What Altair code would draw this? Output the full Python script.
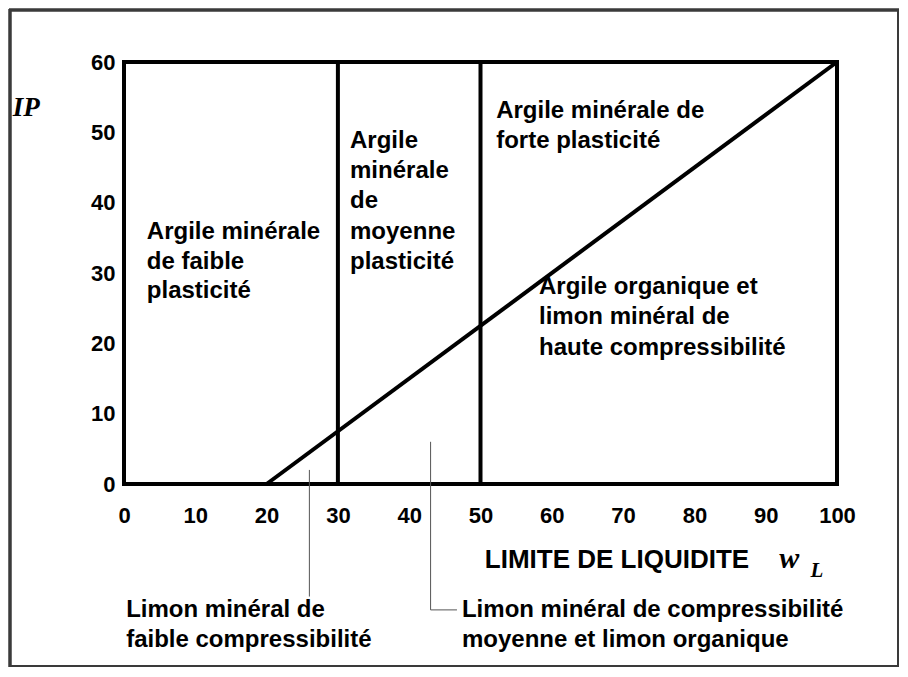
import altair as alt
import pandas as pd

# ---------------- data ----------------
x_ticks = [0, 10, 20, 30, 40, 50, 60, 70, 80, 90, 100]
y_ticks = [0, 10, 20, 30, 40, 50, 60]

# A-line (separation argile / limon)
aline_wl = [20, 100]
aline_ip = [0, 60]

# vertical limits of liquid limit
bound_wl = [30, 50]
bound_ip_low = [0, 0]
bound_ip_high = [60, 60]

# region labels inside the chart (one row per text line)
region_lines = [
    "Argile minérale", "de faible", "plasticité",
    "Argile", "minérale", "de", "moyenne", "plasticité",
    "Argile minérale de", "forte plasticité",
    "Argile organique et", "limon minéral de", "haute compressibilité",
]
region_wl = [3.2, 3.2, 3.2,
             31.7, 31.7, 31.7, 31.7, 31.7,
             52.2, 52.2,
             58.2, 58.2, 58.2]
region_ip = [35.8, 31.6, 27.4,
             48.7, 44.5, 40.2, 35.8, 31.6,
             53.0, 48.7,
             28.0, 23.7, 19.4]

# labels below the chart
below_lines = ["Limon minéral de", "faible compressibilité",
               "Limon minéral de compressibilité", "moyenne et limon organique"]
below_wl = [0.3, 0.3, 47.4, 47.4]
below_ip = [-17.9, -22.2, -17.9, -22.2]

# leader lines
leader1_wl = [26, 26]
leader1_ip = [2.0, -16.0]
leader2_wl = [43, 43, 46.7]
leader2_ip = [6.0, -17.9, -17.9]

# axis titles
x_title = ["LIMITE DE LIQUIDITE"]
x_title_wl = [50.6]
x_title_ip = [-10.8]
w_sym = ["w"]
w_wl = [91.9]
w_ip = [-10.6]
l_sym = ["L"]
l_wl = [96.3]
l_ip = [-12.3]
y_title = ["IP"]
y_title_wl = [-15.6]
y_title_ip = [53.5]

# ---------------- chart ----------------
W, H = 713, 422
SANS = "Liberation Sans"
SERIF = "Liberation Serif"

xscale = alt.Scale(domain=[0, 100], nice=False, zero=False)
yscale = alt.Scale(domain=[0, 60], nice=False, zero=False)
xaxis = alt.Axis(values=x_ticks, grid=False, domain=False, ticks=False, tickSize=0,
                 labelFont=SANS, labelFontWeight="bold", labelFontSize=22,
                 labelColor="black", labelPadding=21, labelFlush=False,
                 labelOverlap=False)
yaxis = alt.Axis(values=y_ticks, grid=False, domain=False, ticks=False, tickSize=0,
                 labelFont=SANS, labelFontWeight="bold", labelFontSize=22,
                 labelColor="black", labelPadding=9, labelFlush=False,
                 labelOverlap=False)


def X(field="wl"):
    return alt.X(f"{field}:Q", scale=xscale, axis=xaxis, title=None)


def Y(field="ip"):
    return alt.Y(f"{field}:Q", scale=yscale, axis=yaxis, title=None)


aline_df = pd.DataFrame({"wl": aline_wl, "ip": aline_ip})
bound_df = pd.DataFrame({"wl": bound_wl, "ip": bound_ip_low, "ip2": bound_ip_high})
region_df = pd.DataFrame({"wl": region_wl, "ip": region_ip, "t": region_lines})
below_df = pd.DataFrame({"wl": below_wl, "ip": below_ip, "t": below_lines})
lead1_df = pd.DataFrame({"wl": leader1_wl, "ip": leader1_ip, "o": [0, 1]})
lead2_df = pd.DataFrame({"wl": leader2_wl, "ip": leader2_ip, "o": [0, 1, 2]})
xt_df = pd.DataFrame({"wl": x_title_wl, "ip": x_title_ip, "t": x_title})
w_df = pd.DataFrame({"wl": w_wl, "ip": w_ip, "t": w_sym})
l_df = pd.DataFrame({"wl": l_wl, "ip": l_ip, "t": l_sym})
yt_df = pd.DataFrame({"wl": y_title_wl, "ip": y_title_ip, "t": y_title})

aline = alt.Chart(aline_df).mark_line(color="black", strokeWidth=4).encode(x=X(), y=Y())

bounds = alt.Chart(bound_df).mark_rule(color="black", strokeWidth=4).encode(
    x=X(), y=Y(), y2="ip2:Q")

regions = alt.Chart(region_df).mark_text(
    align="left", baseline="middle", font=SANS, fontWeight="bold", fontSize=24,
    color="black").encode(x=X(), y=Y(), text="t:N")

below = alt.Chart(below_df).mark_text(
    align="left", baseline="middle", font=SANS, fontWeight="bold", fontSize=24,
    color="black").encode(x=X(), y=Y(), text="t:N")

lead1 = alt.Chart(lead1_df).mark_line(color="#555555", strokeWidth=1).encode(
    x=X(), y=Y(), order="o:Q")
lead2 = alt.Chart(lead2_df).mark_line(color="#555555", strokeWidth=1).encode(
    x=X(), y=Y(), order="o:Q")

xt = alt.Chart(xt_df).mark_text(
    align="left", baseline="middle", font=SANS, fontWeight="bold", fontSize=26,
    color="black").encode(x=X(), y=Y(), text="t:N")
wt = alt.Chart(w_df).mark_text(
    align="left", baseline="middle", font=SERIF, fontWeight="bold", fontStyle="italic",
    fontSize=30, color="black").encode(x=X(), y=Y(), text="t:N")
lt = alt.Chart(l_df).mark_text(
    align="left", baseline="middle", font=SERIF, fontWeight="bold", fontStyle="italic",
    fontSize=21, color="black").encode(x=X(), y=Y(), text="t:N")
yt = alt.Chart(yt_df).mark_text(
    align="left", baseline="middle", font=SERIF, fontWeight="bold", fontStyle="italic",
    fontSize=27, color="black").encode(x=X(), y=Y(), text="t:N")

# outer frame of the figure
fc = "#3a3a3a"
frame_left = alt.Chart(aline_df).mark_rule(color=fc, strokeWidth=3).encode(
    x=alt.value(-114), y=alt.value(-53), y2=alt.value(605))
frame_top = alt.Chart(aline_df).mark_rule(color=fc, strokeWidth=3).encode(
    x=alt.value(-115), x2=alt.value(775), y=alt.value(-52))
frame_right = alt.Chart(aline_df).mark_rule(color=fc, strokeWidth=2).encode(
    x=alt.value(774), y=alt.value(-53), y2=alt.value(605))
frame_bottom = alt.Chart(aline_df).mark_rule(color=fc, strokeWidth=2).encode(
    x=alt.value(-115), x2=alt.value(775), y=alt.value(604))

chart = alt.layer(
    frame_left, frame_top, frame_right, frame_bottom,
    bounds, aline, lead1, lead2, regions, below, xt, wt, lt, yt,
).properties(
    width=W, height=H,
    autosize=alt.AutoSizeParams(type="none"),
    padding={"left": 116, "top": 54, "right": 63, "bottom": 185},
    background="white",
).configure_view(stroke="black", strokeWidth=4)

chart.save("out.html", embed_options={"renderer": "svg", "actions": False})
